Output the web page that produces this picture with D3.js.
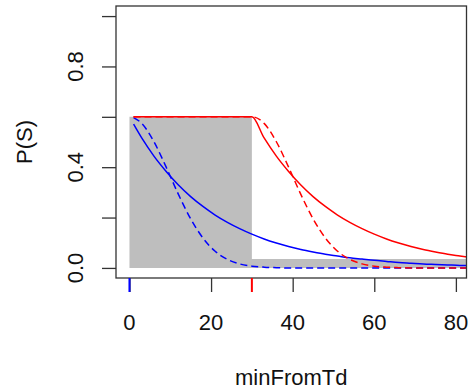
<!DOCTYPE html>
<html>
<head>
<meta charset="utf-8">
<script src="https://cdn.jsdelivr.net/npm/d3@7"></script>
<style>
  body { margin: 0; background: #fff; }
  text { font-family: "Liberation Sans", Arial, sans-serif; fill: #111; }
</style>
</head>
<body>
<div id="chart"></div>
<script>
// minutes from Td
var minutes = [1, 3, 6, 9, 12, 15, 18, 21, 24, 27, 30, 33, 36, 39, 42, 45, 48, 51, 54, 57, 60, 63, 66, 69, 72, 75, 78, 81, 84];
var blueSolid = [0.571, 0.516, 0.444, 0.383, 0.329, 0.283, 0.244, 0.210, 0.181, 0.156, 0.134, 0.115, 0.099, 0.085, 0.073, 0.063, 0.054, 0.047, 0.040, 0.035, 0.030, 0.026, 0.022, 0.019, 0.016, 0.014, 0.012, 0.010, 0.009];
var blueDashed = [0.597, 0.574, 0.501, 0.400, 0.292, 0.195, 0.119, 0.066, 0.034, 0.016, 0.007, 0.003, 0.001, 0, 0, 0, 0, 0, 0, 0, 0, 0, 0, 0, 0, 0, 0, 0, 0];
var redSolid = [0.6, 0.6, 0.6, 0.6, 0.6, 0.6, 0.6, 0.6, 0.6, 0.6, 0.6, 0.516, 0.444, 0.383, 0.329, 0.283, 0.244, 0.210, 0.181, 0.156, 0.134, 0.115, 0.099, 0.085, 0.073, 0.063, 0.054, 0.047, 0.040];
var redDashed = [0.6, 0.6, 0.6, 0.6, 0.6, 0.6, 0.6, 0.6, 0.6, 0.6, 0.6, 0.574, 0.501, 0.400, 0.292, 0.195, 0.119, 0.066, 0.034, 0.016, 0.007, 0.003, 0.001, 0, 0, 0, 0, 0, 0];
// gray step area
var grayX = [0, 30, 84];
var grayY = [0.6, 0.035, 0.035];
var xTicks = [0, 20, 40, 60, 80];
var yTicks = [0, 0.2, 0.4, 0.6, 0.8, 1.0];
var yLabelTicks = [0, 0.4, 0.8];

var width = 468, height = 391;
var pLeft = 116, pTop = 6, pRight = 466.5, pBottom = 278;

var svg = d3.select("#chart").append("svg")
    .attr("width", width)
    .attr("height", height);

var x = d3.scaleLinear().domain([-3.3, 82.6]).range([pLeft, pRight]);
var y = d3.scaleLinear().domain([-0.04, 1.04]).range([pBottom, pTop]);

svg.append("clipPath").attr("id", "plotclip")
    .append("rect")
    .attr("x", pLeft).attr("y", pTop)
    .attr("width", pRight - pLeft).attr("height", pBottom - pTop);

var plot = svg.append("g").attr("clip-path", "url(#plotclip)");

var grayData = grayX.map(function(d, i) { return { x: d, y: grayY[i] }; });
plot.append("path")
    .datum(grayData)
    .attr("d", d3.area()
        .curve(d3.curveStepAfter)
        .x(function(d) { return x(d.x); })
        .y0(y(0))
        .y1(function(d) { return y(d.y); }))
    .attr("fill", "#bebebe");

var line = d3.line()
    .curve(d3.curveMonotoneX)
    .x(function(d) { return x(d.x); })
    .y(function(d) { return y(d.y); });

var series = [
    { values: blueSolid, color: "#0000ff", dash: null },
    { values: blueDashed, color: "#0000ff", dash: "7,4" },
    { values: redSolid, color: "#ff0000", dash: null },
    { values: redDashed, color: "#ff0000", dash: "7,4" }
];

series.forEach(function(s) {
    var pts = minutes.map(function(m, i) { return { x: m, y: s.values[i] }; });
    plot.append("path")
        .datum(pts)
        .attr("d", line)
        .attr("fill", "none")
        .attr("stroke", s.color)
        .attr("stroke-width", 1.5)
        .attr("stroke-dasharray", s.dash);
});

// box
svg.append("rect")
    .attr("x", pLeft).attr("y", pTop)
    .attr("width", pRight - pLeft).attr("height", pBottom - pTop)
    .attr("fill", "none")
    .attr("stroke", "#333")
    .attr("stroke-width", 1.3);

// y axis
var yAxis = d3.axisLeft(y).tickValues(yTicks).tickSize(14).tickFormat("");
var gy = svg.append("g").attr("transform", "translate(" + pLeft + ",0)").call(yAxis);
gy.select(".domain").remove();
gy.selectAll("line").attr("stroke", "#333").attr("stroke-width", 1.3);

svg.selectAll(".ylab")
    .data(yLabelTicks)
    .enter().append("text")
    .attr("class", "ylab")
    .attr("transform", function(d) { return "translate(83," + y(d) + ") rotate(-90)"; })
    .attr("text-anchor", "middle")
    .style("font-size", "22px")
    .text(function(d) { return d3.format(".1f")(d); });

// x axis
var xAxis = d3.axisBottom(x).tickValues(xTicks).tickSize(14).tickFormat("");
var gx = svg.append("g").attr("transform", "translate(0," + pBottom + ")").call(xAxis);
gx.select(".domain").remove();
gx.selectAll("line").attr("stroke", "#333").attr("stroke-width", 1.3);

// marker ticks at 0 and 30
var marks = [{ v: 0, c: "#0000ff" }, { v: 30, c: "#ff0000" }];
svg.selectAll(".mark")
    .data(marks)
    .enter().append("line")
    .attr("class", "mark")
    .attr("x1", function(d) { return x(d.v); })
    .attr("x2", function(d) { return x(d.v); })
    .attr("y1", pBottom)
    .attr("y2", pBottom + 14)
    .attr("stroke", function(d) { return d.c; })
    .attr("stroke-width", 2);

svg.selectAll(".xlab")
    .data(xTicks)
    .enter().append("text")
    .attr("class", "xlab")
    .attr("x", function(d) { return x(d); })
    .attr("y", 330)
    .attr("text-anchor", "middle")
    .style("font-size", "22px")
    .text(function(d) { return d; });

svg.append("text")
    .attr("x", (pLeft + pRight) / 2)
    .attr("y", 385)
    .attr("text-anchor", "middle")
    .style("font-size", "22px")
    .text("minFromTd");

svg.append("text")
    .attr("transform", "translate(32," + (pTop + pBottom) / 2 + ") rotate(-90)")
    .attr("text-anchor", "middle")
    .style("font-size", "22px")
    .text("P(S)");
</script>
</body>
</html>
